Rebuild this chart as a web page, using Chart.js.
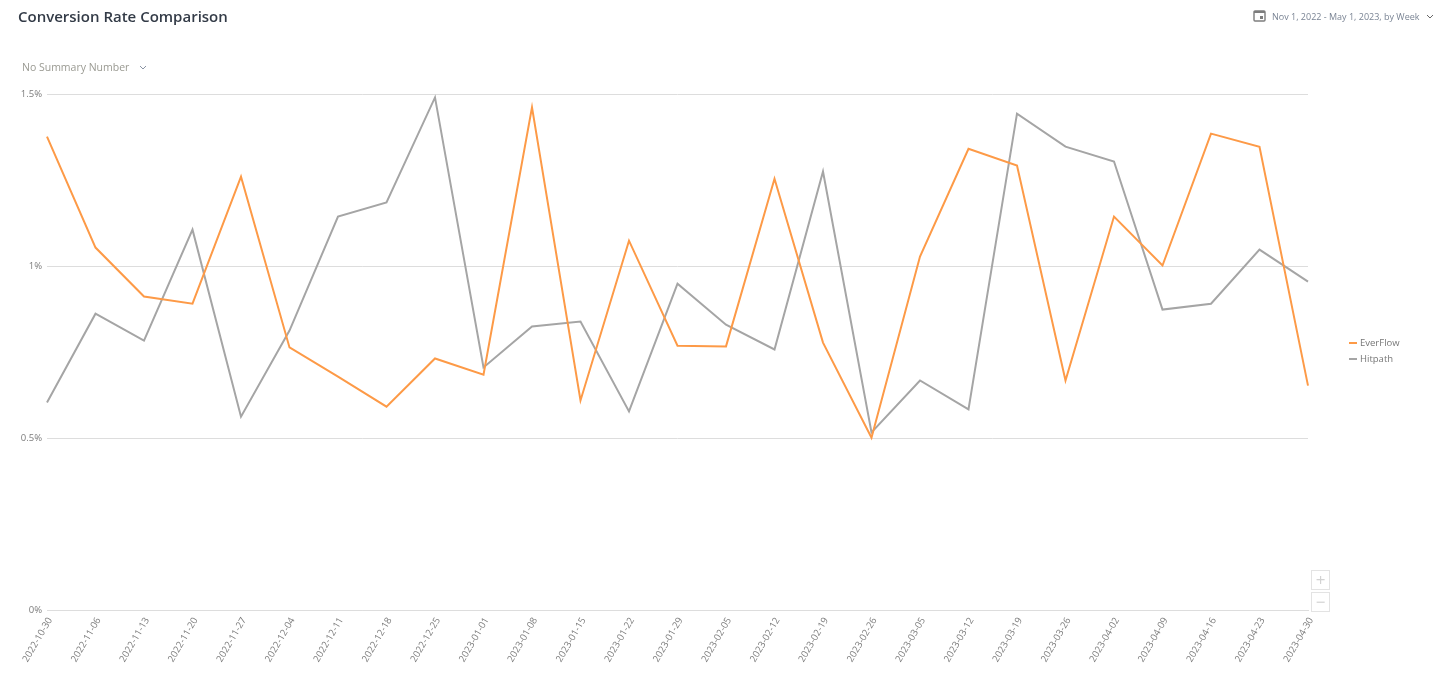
<!DOCTYPE html>
<html>
<head>
<meta charset="utf-8">
<title>Conversion Rate Comparison</title>
<script src="https://cdn.jsdelivr.net/npm/chart.js@4/dist/chart.umd.min.js"></script>
<style>
    html, body { margin: 0; padding: 0; background: #fff; overflow: hidden; font-family: "Open Sans", sans-serif; }
    #wrap { position: relative; width: 1444px; height: 678px; }
    #chart { position: absolute; left: 0; top: 0; }
    .title { position: absolute; left: 18px; top: 6px; font-size: 15px; font-weight: 600; color: #333b47; white-space: nowrap; }
    .range { position: absolute; left: 1272px; top: 10px; font-size: 9px; color: #7a8494; white-space: nowrap; }
    .summary { position: absolute; left: 22px; top: 60px; font-size: 10.5px; color: #9a9a92; white-space: nowrap; }
    .abs { position: absolute; }
    .zoom { position: absolute; left: 1311px; width: 17px; height: 18px; border: 1px solid #e3e3e3; color: #d2d2d2; font-size: 17px; line-height: 17px; text-align: center; }
    #legend { position: absolute; left: 1349px; top: 335px; font-size: 9.5px; color: #777; }
    #legend div { height: 16px; line-height: 16px; white-space: nowrap; }
    #legend span { display: inline-block; width: 8px; height: 2px; margin-right: 3px; vertical-align: middle; }
</style>
</head>
<body>
<div id="wrap">
    <canvas id="chart" width="1444" height="678"></canvas>
    <div class="title">Conversion Rate Comparison</div>
    <svg class="abs" style="left:1253px;top:9px" width="13" height="13" viewBox="0 0 13 13">
        <rect x="1" y="2" width="11" height="10" rx="1" fill="none" stroke="#7d7d7d" stroke-width="1.4"/>
        <rect x="1" y="2" width="11" height="2" fill="#7d7d7d"/>
        <rect x="7" y="7" width="3" height="3" fill="#7d7d7d"/>
    </svg>
    <div class="range">Nov 1, 2022 - May 1, 2023, by Week</div>
    <svg class="abs" style="left:1426px;top:14px" width="8" height="5" viewBox="0 0 8 5"><path d="M1 1 L4 4 L7 1" fill="none" stroke="#666" stroke-width="1"/></svg>
    <div class="summary">No Summary Number</div>
    <svg class="abs" style="left:139px;top:65px" width="8" height="5" viewBox="0 0 8 5"><path d="M1 1 L4 4 L7 1" fill="none" stroke="#8a93a3" stroke-width="1"/></svg>
    <div id="legend"></div>
    <div class="zoom" style="top:570px">+</div>
    <div class="zoom" style="top:592px">&minus;</div>
</div>
<script>
    "use strict";

    var weeks = ["2022-10-30", "2022-11-06", "2022-11-13", "2022-11-20", "2022-11-27", "2022-12-04", "2022-12-11",
        "2022-12-18", "2022-12-25", "2023-01-01", "2023-01-08", "2023-01-15", "2023-01-22", "2023-01-29",
        "2023-02-05", "2023-02-12", "2023-02-19", "2023-02-26", "2023-03-05", "2023-03-12", "2023-03-19",
        "2023-03-26", "2023-04-02", "2023-04-09", "2023-04-16", "2023-04-23", "2023-04-30"];

    var everFlow = [1.376, 1.054, 0.912, 0.891, 1.260, 0.764, 0.679, 0.592, 0.732, 0.685, 1.461, 0.610, 1.074, 0.769,
        0.767, 1.254, 0.778, 0.502, 1.028, 1.341, 1.292, 0.668, 1.144, 1.002, 1.385, 1.347, 0.653];

    var hitpath = [0.604, 0.862, 0.784, 1.106, 0.563, 0.813, 1.144, 1.185, 1.490, 0.706, 0.825, 0.839, 0.578, 0.949,
        0.830, 0.758, 1.275, 0.517, 0.668, 0.584, 1.443, 1.347, 1.304, 0.874, 0.891, 1.048, 0.955];

    var yTicks = [0, 0.5, 1, 1.5];

    var ctx = document.getElementById("chart").getContext("2d");
    var myChart = new Chart(ctx, {
        type: "line",
        data: {
            labels: weeks,
            datasets: [{
                label: "EverFlow",
                data: everFlow,
                borderColor: "#fd9a47",
                backgroundColor: "#fd9a47",
                borderWidth: 2,
                pointRadius: 0,
                tension: 0
            },
            {
                label: "Hitpath",
                data: hitpath,
                borderColor: "#a5a5a5",
                backgroundColor: "#a5a5a5",
                borderWidth: 2,
                pointRadius: 0,
                tension: 0
            }]
        },
        options: {
            responsive: false,
            animation: false,
            layout: { padding: { top: 94, right: 136, left: 0, bottom: 0 } },
            plugins: {
                tooltip: { enabled: false },
                legend: { display: false }
            },
            scales: {
                x: {
                    grid: { display: false },
                    border: { color: "#dddddd" },
                    ticks: {
                        autoSkip: false,
                        minRotation: 60,
                        maxRotation: 60,
                        padding: -3,
                        labelOffset: 3,
                        color: "#7c7c7c",
                        font: { family: "Open Sans", size: 9.5 }
                    },
                    afterFit: function (scale) { scale.height = 67.5; }
                },
                y: {
                    min: 0,
                    max: 1.5,
                    afterBuildTicks: function (scale) {
                        scale.ticks = yTicks.map(function (v) { return { value: v }; });
                    },
                    grid: { color: "#dddddd", drawTicks: false },
                    border: { display: false },
                    ticks: {
                        padding: 5,
                        color: "#7c7c7c",
                        font: { family: "Open Sans", size: 9.5 },
                        callback: function (v) { return v + "%"; }
                    },
                    afterFit: function (scale) { scale.width = 47; }
                }
            }
        }
    });

    // Legend
    myChart.data.datasets.forEach(function (ds) {
        var row = document.createElement("div");
        var swatch = document.createElement("span");
        swatch.style.background = ds.borderColor;
        row.appendChild(swatch);
        row.appendChild(document.createTextNode(ds.label));
        document.getElementById("legend").appendChild(row);
    });
</script>
</body>
</html>
